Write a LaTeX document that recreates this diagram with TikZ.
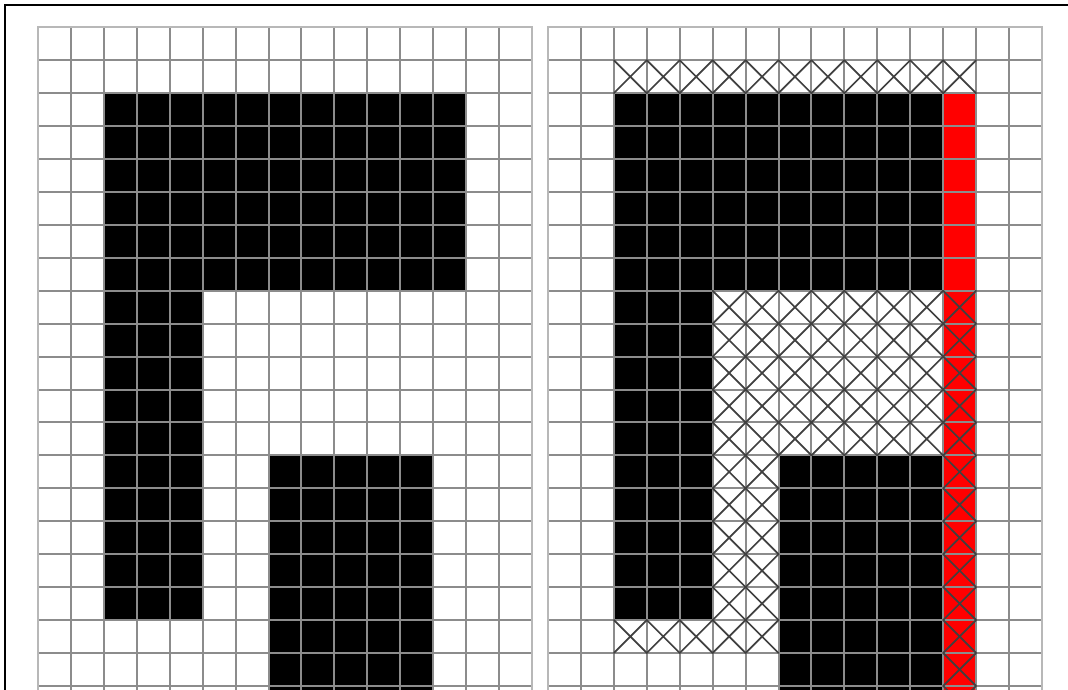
\documentclass[tikz,border=0pt]{standalone}
\begin{document}
\begin{tikzpicture}[x=1pt,y=-1pt,
  gridline/.style={draw=black!45,line width=2pt},
  gridouter/.style={draw=black!28,line width=2pt},
  crossline/.style={draw=black!75,line width=1.7pt,line cap=round},
  blackfill/.style={fill=black},
  redfill/.style={fill=red}]
\useasboundingbox (0,0) rectangle (1068,690);
\fill[white] (0,0) rectangle (1068,690);
\clip (0,0) rectangle (1068,690);
\draw[line width=1.8pt] (5,5) rectangle (1090,720);
% ---------- left grid ----------
\begin{scope}[shift={(38,27.3)},x=32.93pt,y=-32.93pt]
  \fill[blackfill] (2,2) rectangle (13,8);
  \fill[blackfill] (2,8) rectangle (5,18);
  \fill[blackfill] (7,13) rectangle (12,21.5);
  \foreach \i in {1,...,14} \draw[gridline] (\i,0) -- (\i,21.5);
  \foreach \j in {1,...,21} \draw[gridline] (0,\j) -- (15,\j);
  \draw[gridouter] (0,21.5) -- (0,0) -- (15,0) -- (15,21.5);
\end{scope}
% ---------- right grid ----------
\begin{scope}[shift={(548,27.3)},x=32.93pt,y=-32.93pt]
  \fill[blackfill] (2,2) rectangle (12,8);
  \fill[blackfill] (2,8) rectangle (5,18);
  \fill[blackfill] (7,13) rectangle (12,21.5);
  \fill[redfill] (12,2) rectangle (13,21.5);
  \foreach \i in {1,...,14} \draw[gridline] (\i,0) -- (\i,21.5);
  \foreach \j in {1,...,21} \draw[gridline] (0,\j) -- (15,\j);
  \draw[gridouter] (0,21.5) -- (0,0) -- (15,0) -- (15,21.5);
  % crossed cells
  \foreach \cx in {2,...,12} {
    \draw[crossline] (\cx,1) -- ++(1,1) (\cx+1,1) -- ++(-1,1);
  }
  \foreach \cy in {8,...,12} \foreach \cx in {5,...,12} {
    \draw[crossline] (\cx,\cy) -- ++(1,1) (\cx+1,\cy) -- ++(-1,1);
  }
  \foreach \cy in {13,...,17} \foreach \cx in {5,6,12} {
    \draw[crossline] (\cx,\cy) -- ++(1,1) (\cx+1,\cy) -- ++(-1,1);
  }
  \foreach \cx in {2,...,6,12} {
    \draw[crossline] (\cx,18) -- ++(1,1) (\cx+1,18) -- ++(-1,1);
  }
  \foreach \cy in {19,20,21} {
    \draw[crossline] (12,\cy) -- ++(1,1) (13,\cy) -- ++(-1,1);
  }
\end{scope}
\end{tikzpicture}
\end{document}
